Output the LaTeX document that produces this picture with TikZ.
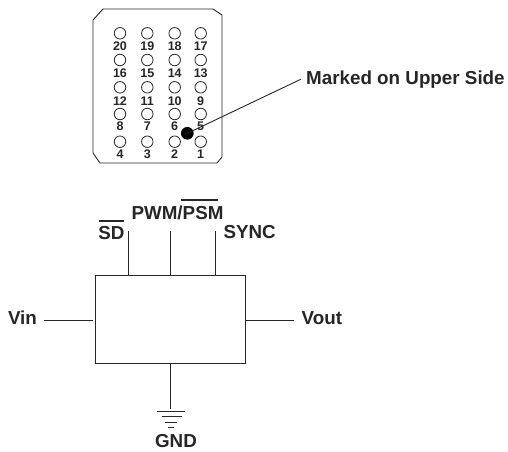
\documentclass[tikz,border=0pt]{standalone}
\usepackage{fontspec}
\setmainfont{Liberation Sans}
\tikzset{
  pinhole/.style={circle,draw=black!85,line width=0.8pt,minimum size=11.5pt,inner sep=0pt},
  pinnum/.style={font=\fontsize{12.5}{13}\selectfont\bfseries,inner sep=0pt,anchor=base,text=black!85},
  lbl/.style={font=\fontsize{18.8}{20}\selectfont\bfseries,inner sep=0pt,anchor=base,text=black!85},
  wire/.style={draw=black!85,line width=0.9pt}
}
\newcommand{\ovl}[4]{\rlap{\hspace{#2}\rule[#1]{#3}{1.4pt}}#4}
\begin{document}
\begin{tikzpicture}[x=1pt,y=-1pt]
\useasboundingbox (0,0) rectangle (508,451);
\draw[wire] (103,9) -- (213,9) -- (222,15) -- (222,157) -- (217,163) -- (100,163) -- (93,153) -- (93,20) -- cycle;
\foreach \n/\x/\y/\b in {20/120/33.3/50,19/147.3/33.3/50,18/174.7/33.3/50,17/200.7/33.3/50,
 16/120/60/77.7,15/147.3/60/77.7,14/174.7/60/77.7,13/200.7/60/77.7,
 12/120/87.3/105,11/147.3/87.3/105,10/174.7/87.3/105,9/200.7/87.3/105,
 8/120/114/130,7/147.3/114/130,6/174.7/114/130,5/200.7/114/130,
 4/120/141.7/158.3,3/147.3/141.7/158.3,2/174.7/141.7/158.3,1/200.7/141.7/158.3}{
  \node[pinhole] (h\n) at (\x,\y) {};
  \node[pinnum] (n\n) at (\x,\b) {\n};
}
\node[circle,fill=black,minimum size=12.7pt,inner sep=0pt] (dot) at (187.3,133.3) {};
\node[lbl,anchor=base west] (mark) at (306,84.5) {Marked on Upper Side};
\coordinate (markend) at (300.7,79.3);
\draw[wire] (dot.center) -- (markend);
\node[draw=black!85,line width=0.9pt,minimum width=149.3pt,minimum height=87.6pt,inner sep=0pt] (box) at (170.3,319.5) {};
\coordinate (sdT) at (128.7,231);
\coordinate (pwmT) at (170,231);
\coordinate (syncT) at (215.7,231);
\draw[wire] (sdT) -- (sdT |- box.north);
\draw[wire] (pwmT) -- (pwmT |- box.north);
\draw[wire] (syncT) -- (syncT |- box.north);
\node[lbl] (sd) at (111.5,239.5) {\ovl{17.8pt}{1pt}{24.3pt}{SD}};
\node[lbl] (pwm) at (177.5,219.5) {PWM/\ovl{18.8pt}{-2pt}{37.7pt}{PSM}};
\node[lbl,anchor=base west] (sync) at (223.3,238.5) {SYNC};
\node[lbl] (vin) at (22.5,324) {Vin};
\node[lbl,anchor=base west] (vout) at (301.5,324) {Vout};
\coordinate (vinL) at (44,320);
\coordinate (vinR) at (93.3,320);
\coordinate (voutR) at (293.7,320);
\draw[wire] (vinL) -- (vinR);
\draw[wire] (voutR) -- (voutR -| box.east);
\coordinate (gndT) at (170,409);
\draw[wire] (box.south -| gndT) -- (gndT);
\draw[wire] (156.7,411.7) -- (185,411.7);
\draw[wire] (161.7,416.7) -- (182,416.7);
\draw[wire] (165,422.3) -- (176.7,422.3);
\draw[wire] (167.7,427.7) -- (174.3,427.7);
\node[lbl] (gnd) at (176,447) {GND};
\end{tikzpicture}
\end{document}
